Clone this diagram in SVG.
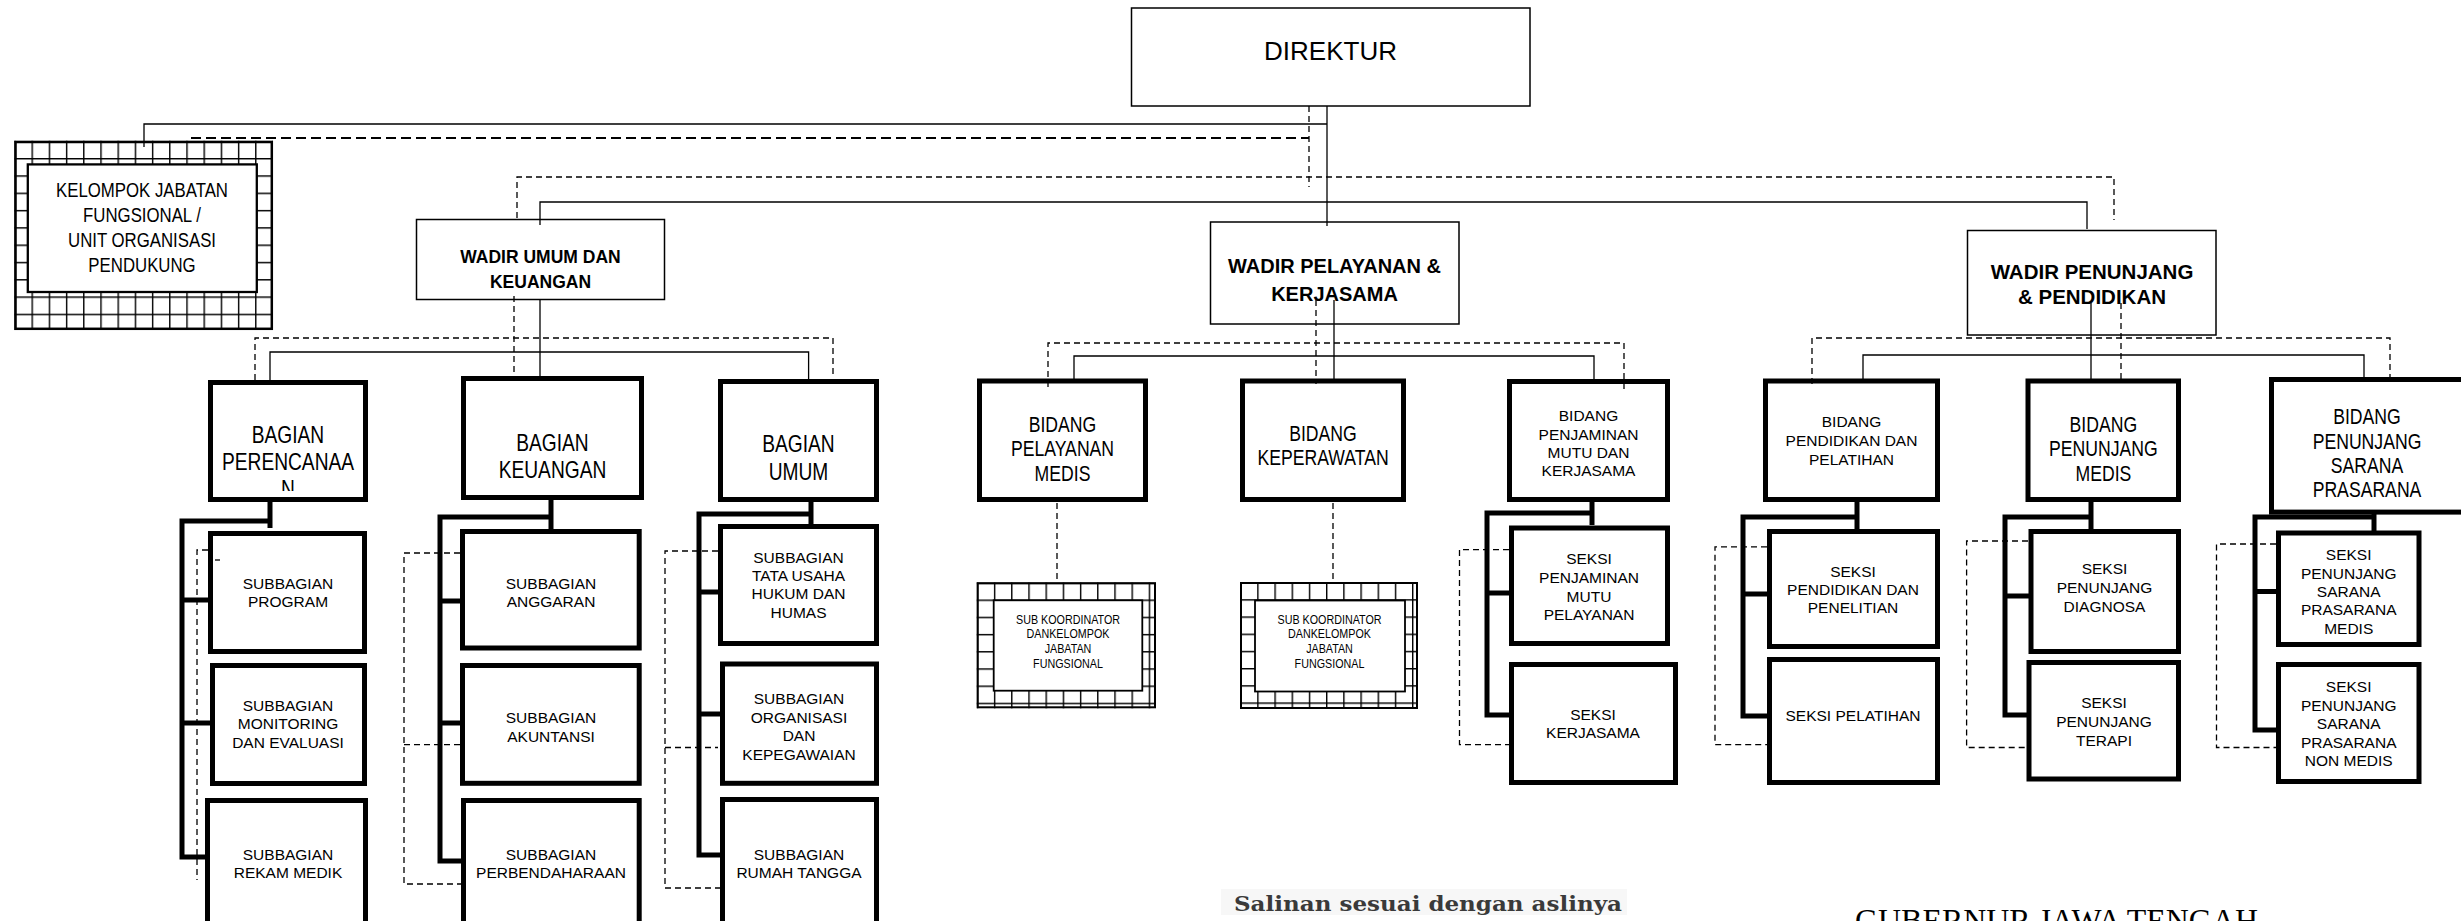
<svg xmlns="http://www.w3.org/2000/svg" width="2461" height="921" viewBox="0 0 2461 921">
<style>
.t{font-family:"Liberation Sans",Arial,sans-serif;text-anchor:middle;fill:#000}
.f15{font-size:15.5px}
.nb{font-size:23.4px}
.nm{font-size:21.5px}
.ns{font-size:12.5px}
.wb{font-weight:bold}
.bx{fill:#fff;stroke:#000;stroke-width:5}
.tb{fill:#fff;stroke:#000;stroke-width:1.5}
.c{fill:none;stroke:#000;stroke-width:1.3}
.d{fill:none;stroke:#000;stroke-width:1.3;stroke-dasharray:6 4}
.d2{fill:none;stroke:#000;stroke-width:1.8;stroke-dasharray:10 5}
.k{fill:none;stroke:#000;stroke-width:5}
</style>
<defs>
<pattern id="gk" patternUnits="userSpaceOnUse" x="14.3" y="140.7" width="17.2" height="17.3"><path d="M0,0.7H17.2M0.7,0V17.3" stroke="#000" stroke-width="1.4" fill="none"/></pattern>
<pattern id="gs1" patternUnits="userSpaceOnUse" x="976.7" y="582.3" width="17.2" height="17.2"><path d="M0,0.7H17.2M0.7,0V17.2" stroke="#000" stroke-width="1.4" fill="none"/></pattern>
<pattern id="gs2" patternUnits="userSpaceOnUse" x="1240" y="582" width="17.2" height="17.2"><path d="M0,0.7H17.2M0.7,0V17.2" stroke="#000" stroke-width="1.4" fill="none"/></pattern>
<clipPath id="clipN"><rect x="200" y="380" width="180" height="111"/></clipPath>
<clipPath id="clipS"><rect x="1200" y="880" width="450" height="35"/></clipPath>
</defs>
<rect width="2461" height="921" fill="#fff"/>

<g id="direktur"><rect class="tb" x="1131.5" y="8" width="398.5" height="98"/><text class="t" x="1330.5" y="59.5" font-size="26">DIREKTUR</text></g>

<g id="kelompok">
<rect x="14.3" y="140.7" width="258.7" height="189.3" fill="url(#gk)"/>
<rect x="15.5" y="142" width="256.3" height="186.8" fill="none" stroke="#000" stroke-width="2.5"/>
<rect x="27.8" y="164.4" width="229" height="127.6" fill="#fff" stroke="#000" stroke-width="2.3"/>
<text class="t" font-size="21" transform="translate(142,0) scale(0.8,1)"><tspan x="0" y="196.7">KELOMPOK JABATAN</tspan><tspan x="0" y="221.7">FUNGSIONAL /</tspan><tspan x="0" y="246.7">UNIT ORGANISASI</tspan><tspan x="0" y="271.7">PENDUKUNG</tspan></text>
</g>

<g id="wadir-umum"><rect class="tb" x="416.5" y="219.5" width="248" height="80"/><text class="t wb" font-size="17.5"><tspan x="540.5" y="263">WADIR UMUM DAN</tspan><tspan x="540.5" y="288">KEUANGAN</tspan></text></g>
<g id="wadir-pelayanan"><rect class="tb" x="1210.5" y="222" width="248.5" height="102"/><text class="t wb" font-size="20"><tspan x="1334.5" y="272.7">WADIR PELAYANAN &amp;</tspan><tspan x="1334.5" y="301">KERJASAMA</tspan></text></g>
<g id="wadir-penunjang"><rect class="tb" x="1967.5" y="230.5" width="248.5" height="104.5"/><text class="t wb" font-size="20.5"><tspan x="2092" y="279">WADIR PENUNJANG</tspan><tspan x="2092" y="304">&amp; PENDIDIKAN</tspan></text></g>

<g id="bagian-perencanaan"><rect class="bx" x="210.5" y="382.5" width="155" height="117"/><g clip-path="url(#clipN)"><text class="t nb" transform="translate(288,0) scale(0.82,1)"><tspan x="0" y="443">BAGIAN</tspan><tspan x="0" y="470">PERENCANAA</tspan><tspan x="0" y="497.5">N</tspan></text></g></g>
<g id="sub-program"><rect class="bx" x="210.5" y="533.5" width="154" height="118"/><text class="t f15"><tspan x="288" y="589">SUBBAGIAN</tspan><tspan x="288" y="607">PROGRAM</tspan></text></g>
<g id="sub-monev"><rect class="bx" x="212.5" y="665.5" width="152" height="118"/><text class="t f15"><tspan x="288" y="710.5">SUBBAGIAN</tspan><tspan x="288" y="729">MONITORING</tspan><tspan x="288" y="748">DAN EVALUASI</tspan></text></g>
<g id="sub-rekam"><rect class="bx" x="207.5" y="800.5" width="158" height="130"/><text class="t f15"><tspan x="288" y="859.5">SUBBAGIAN</tspan><tspan x="288" y="878">REKAM MEDIK</tspan></text></g>

<g id="bagian-keuangan"><rect class="bx" x="463.5" y="378.5" width="178" height="119"/><text class="t nb" transform="translate(552.5,0) scale(0.82,1)"><tspan x="0" y="451">BAGIAN</tspan><tspan x="0" y="478">KEUANGAN</tspan></text></g>
<g id="sub-anggaran"><rect class="bx" x="462.5" y="531.5" width="176.7" height="116.5"/><text class="t f15"><tspan x="551" y="589">SUBBAGIAN</tspan><tspan x="551" y="607">ANGGARAN</tspan></text></g>
<g id="sub-akuntansi"><rect class="bx" x="462.5" y="665.5" width="176.7" height="117.8"/><text class="t f15"><tspan x="551" y="723">SUBBAGIAN</tspan><tspan x="551" y="741.5">AKUNTANSI</tspan></text></g>
<g id="sub-perbendaharaan"><rect class="bx" x="463.5" y="800.5" width="175.7" height="130"/><text class="t f15"><tspan x="551" y="859.5">SUBBAGIAN</tspan><tspan x="551" y="878">PERBENDAHARAAN</tspan></text></g>

<g id="bagian-umum"><rect class="bx" x="720.5" y="381.5" width="156" height="118"/><text class="t nb" transform="translate(798.5,0) scale(0.82,1)"><tspan x="0" y="452">BAGIAN</tspan><tspan x="0" y="480">UMUM</tspan></text></g>
<g id="sub-tu"><rect class="bx" x="720.5" y="526.5" width="156" height="117"/><text class="t f15"><tspan x="798.5" y="563">SUBBAGIAN</tspan><tspan x="798.5" y="581">TATA USAHA</tspan><tspan x="798.5" y="599">HUKUM DAN</tspan><tspan x="798.5" y="617.5">HUMAS</tspan></text></g>
<g id="sub-organisasi"><rect class="bx" x="722.5" y="664" width="154" height="119.3"/><text class="t f15"><tspan x="799" y="704">SUBBAGIAN</tspan><tspan x="799" y="722.5">ORGANISASI</tspan><tspan x="799" y="741">DAN</tspan><tspan x="799" y="759.5">KEPEGAWAIAN</tspan></text></g>
<g id="sub-rt"><rect class="bx" x="722.5" y="799.5" width="154" height="130"/><text class="t f15"><tspan x="799" y="859.5">SUBBAGIAN</tspan><tspan x="799" y="878">RUMAH TANGGA</tspan></text></g>

<g id="bidang-pelayanan"><rect class="bx" x="979.5" y="381" width="166" height="118.5"/><text class="t nm" transform="translate(1062.5,0) scale(0.82,1)"><tspan x="0" y="432">BIDANG</tspan><tspan x="0" y="456">PELAYANAN</tspan><tspan x="0" y="481">MEDIS</tspan></text></g>
<g id="subkoor-1">
<rect x="976.7" y="582.3" width="179.3" height="126" fill="url(#gs1)"/>
<rect x="977.7" y="583.3" width="177.3" height="124" fill="none" stroke="#000" stroke-width="2"/>
<rect x="993.7" y="600.3" width="148.6" height="90.4" fill="#fff" stroke="#000" stroke-width="1.8"/>
<text class="t ns" transform="translate(1068,0) scale(0.86,1)"><tspan x="0" y="624">SUB KOORDINATOR</tspan><tspan x="0" y="638.3">DANKELOMPOK</tspan><tspan x="0" y="653.3">JABATAN</tspan><tspan x="0" y="667.7">FUNGSIONAL</tspan></text>
</g>

<g id="bidang-keperawatan"><rect class="bx" x="1242.5" y="381" width="161" height="118.5"/><text class="t nm" transform="translate(1323,0) scale(0.82,1)"><tspan x="0" y="441.5">BIDANG</tspan><tspan x="0" y="465.5">KEPERAWATAN</tspan></text></g>
<g id="subkoor-2">
<rect x="1240" y="582" width="178" height="127" fill="url(#gs2)"/>
<rect x="1241" y="583" width="176" height="125" fill="none" stroke="#000" stroke-width="2"/>
<rect x="1255" y="600.5" width="150" height="91" fill="#fff" stroke="#000" stroke-width="1.8"/>
<text class="t ns" transform="translate(1329.5,0) scale(0.86,1)"><tspan x="0" y="624">SUB KOORDINATOR</tspan><tspan x="0" y="638.3">DANKELOMPOK</tspan><tspan x="0" y="653.3">JABATAN</tspan><tspan x="0" y="667.7">FUNGSIONAL</tspan></text>
</g>

<g id="bidang-penjaminan"><rect class="bx" x="1509.5" y="381.5" width="158" height="118"/><text class="t f15"><tspan x="1588.5" y="421">BIDANG</tspan><tspan x="1588.5" y="439.5">PENJAMINAN</tspan><tspan x="1588.5" y="458">MUTU DAN</tspan><tspan x="1588.5" y="476">KERJASAMA</tspan></text></g>
<g id="seksi-penjaminan"><rect class="bx" x="1511.5" y="528" width="156" height="115.5"/><text class="t f15"><tspan x="1589" y="564">SEKSI</tspan><tspan x="1589" y="582.5">PENJAMINAN</tspan><tspan x="1589" y="601.5">MUTU</tspan><tspan x="1589" y="619.5">PELAYANAN</tspan></text></g>
<g id="seksi-kerjasama"><rect class="bx" x="1511.5" y="664.5" width="164" height="118"/><text class="t f15"><tspan x="1593" y="719.5">SEKSI</tspan><tspan x="1593" y="737.5">KERJASAMA</tspan></text></g>

<g id="bidang-pendidikan"><rect class="bx" x="1765.5" y="381" width="172" height="118.5"/><text class="t f15"><tspan x="1851.5" y="427">BIDANG</tspan><tspan x="1851.5" y="446">PENDIDIKAN DAN</tspan><tspan x="1851.5" y="464.5">PELATIHAN</tspan></text></g>
<g id="seksi-pendidikan"><rect class="bx" x="1769.5" y="531.5" width="168" height="115"/><text class="t f15"><tspan x="1853" y="576.5">SEKSI</tspan><tspan x="1853" y="595">PENDIDIKAN DAN</tspan><tspan x="1853" y="613">PENELITIAN</tspan></text></g>
<g id="seksi-pelatihan"><rect class="bx" x="1769.5" y="659.5" width="168" height="123"/><text class="t f15" x="1853" y="720.5">SEKSI PELATIHAN</text></g>

<g id="bidang-penunjang-medis"><rect class="bx" x="2028" y="381" width="150.5" height="118.5"/><text class="t nm" transform="translate(2103.4,0) scale(0.82,1)"><tspan x="0" y="432">BIDANG</tspan><tspan x="0" y="456.5">PENUNJANG</tspan><tspan x="0" y="481">MEDIS</tspan></text></g>
<g id="seksi-diagnosa"><rect class="bx" x="2031" y="531.5" width="147.5" height="120"/><text class="t f15"><tspan x="2104.5" y="574">SEKSI</tspan><tspan x="2104.5" y="593">PENUNJANG</tspan><tspan x="2104.5" y="611.5">DIAGNOSA</tspan></text></g>
<g id="seksi-terapi"><rect class="bx" x="2029" y="662.5" width="149.5" height="116.5"/><text class="t f15"><tspan x="2104" y="708">SEKSI</tspan><tspan x="2104" y="727">PENUNJANG</tspan><tspan x="2104" y="745.5">TERAPI</tspan></text></g>

<g id="bidang-sarana"><rect class="bx" x="2271.5" y="379.5" width="200" height="132.6"/><text class="t nm" transform="translate(2367,0) scale(0.82,1)"><tspan x="0" y="424.4">BIDANG</tspan><tspan x="0" y="448.7">PENUNJANG</tspan><tspan x="0" y="472.7">SARANA</tspan><tspan x="0" y="497.5">PRASARANA</tspan></text></g>
<g id="seksi-sarana-medis"><rect class="bx" x="2278.5" y="533" width="140.5" height="111.5"/><text class="t f15"><tspan x="2348.7" y="560.4">SEKSI</tspan><tspan x="2348.7" y="579">PENUNJANG</tspan><tspan x="2348.7" y="597">SARANA</tspan><tspan x="2348.7" y="615">PRASARANA</tspan><tspan x="2348.7" y="633.7">MEDIS</tspan></text></g>
<g id="seksi-sarana-nonmedis"><rect class="bx" x="2278.5" y="664.5" width="140.5" height="117"/><text class="t f15"><tspan x="2348.7" y="692">SEKSI</tspan><tspan x="2348.7" y="710.6">PENUNJANG</tspan><tspan x="2348.7" y="729">SARANA</tspan><tspan x="2348.7" y="747.5">PRASARANA</tspan><tspan x="2348.7" y="766">NON MEDIS</tspan></text></g>

<g id="connectors">
<path class="c" d="M144,147V124H1327"/>
<path class="c" d="M1327,106V226"/>
<path class="c" d="M540,225V202H2087V229"/>
<path class="c" d="M540,300V378"/>
<path class="c" d="M270,381V352H808.6V381"/>
<path class="c" d="M1334,300V381"/>
<path class="c" d="M1074,381V356H1594V381"/>
<path class="c" d="M2091,303V381"/>
<path class="c" d="M1863,381V355H2364V379"/>
<path class="d2" d="M191,138H1309"/>
<path class="d" d="M1309,106V187"/>
<path class="d" d="M517,218V177H2114V220"/>
<path class="d" d="M514,296V378"/>
<path class="d" d="M255,380V338H833V378"/>
<path class="d" d="M1316,300V384"/>
<path class="d" d="M1048,387V343H1624V390"/>
<path class="d" d="M2121,303V380"/>
<path class="d" d="M1812,384V338H2390V378"/>
<path class="d" d="M1057,503V582"/>
<path class="d" d="M1333,503V582"/>
<path class="d" d="M208,550H197V880"/>
<path class="c" d="M215,560H220"/>
<path class="d" d="M460,553H404V884H461M404,744.6H460"/>
<path class="d" d="M718,551H665V888H720M665,747.5H718"/>
<path class="d" d="M1509,549.6H1459.5V744.6H1509"/>
<path class="d" d="M1767,546.8H1715V744.6H1767"/>
<path class="d" d="M2028,541H1966.6V747.5H2027"/>
<path class="d" d="M2276,544H2216.5V747.5H2276"/>
<path class="k" d="M270,502V528M272,521H182V857H205M182,600H208M182,723H210"/>
<path class="k" d="M551,500V529M553,517H440V861H461M440,601H460M440,723H460"/>
<path class="k" d="M811,502V524M813,514H699V855H720M699,592H718M699,714H720"/>
<path class="k" d="M1592,502V525M1594,513H1487V715H1509M1487,593H1509"/>
<path class="k" d="M1857,502V529M1859,517H1743V716H1767M1743,594H1767"/>
<path class="k" d="M2091,502V529M2093,517H2005V715H2029M2005,596H2031"/>
<path class="k" d="M2374,514V531M2376,517H2255V730H2276M2253,591.5H2276"/>
</g>

<g id="salinan" clip-path="url(#clipS)"><rect x="1221" y="889" width="406" height="26" fill="#f7f7f7"/><text x="1234" y="911" font-family="'DejaVu Serif',serif" font-weight="bold" font-size="20" fill="#3a3a3a" textLength="388" lengthAdjust="spacingAndGlyphs">Salinan sesuai dengan aslinya</text></g>
<g id="gubernur"><text x="1855" y="931" font-family="'Liberation Serif',serif" font-size="31" fill="#000" textLength="403" lengthAdjust="spacingAndGlyphs">GUBERNUR JAWA TENGAH</text></g>
</svg>
